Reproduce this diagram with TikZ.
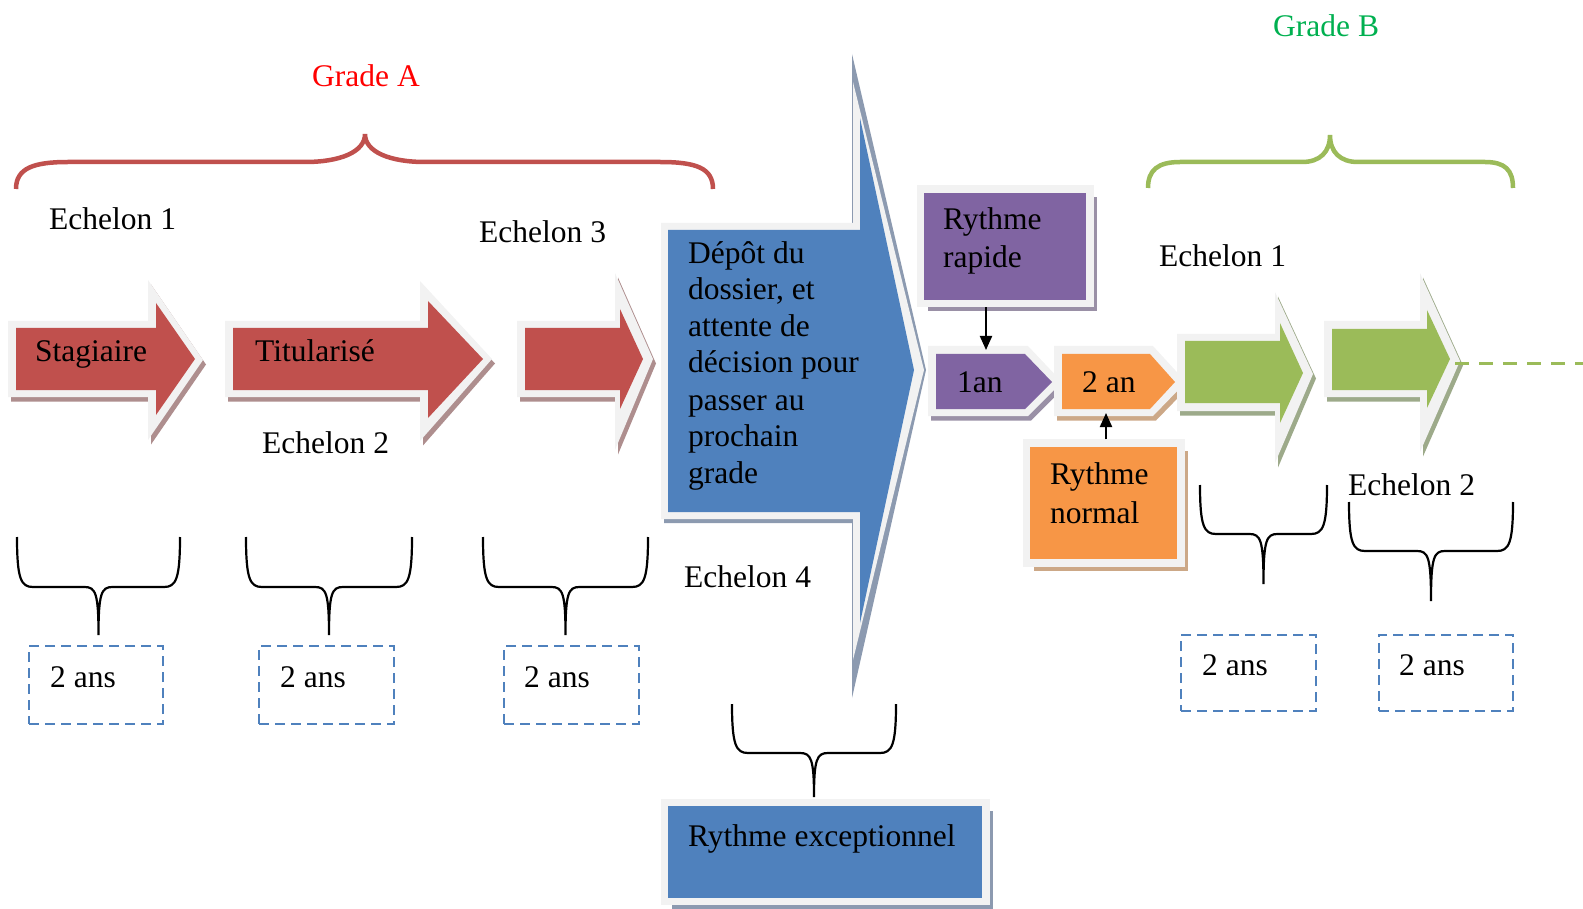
\documentclass[tikz,border=0pt]{standalone}
\usepackage{fontspec}
\setmainfont{Liberation Serif}
\usetikzlibrary{arrows.meta,shadows}
\definecolor{cRed}{HTML}{C0504D}
\definecolor{cBlue}{HTML}{4F81BD}
\definecolor{cPurple}{HTML}{8064A2}
\definecolor{cOrange}{HTML}{F79646}
\definecolor{cGreen}{HTML}{9BBB59}
\definecolor{cGlow}{HTML}{F2F2F2}
\definecolor{sRed}{HTML}{AE8E8E}
\definecolor{sBlue}{HTML}{8C9AB0}
\definecolor{sPurple}{HTML}{9A90A6}
\definecolor{sOrange}{HTML}{CCA887}
\definecolor{sGreen}{HTML}{9DAA8A}
\definecolor{gradeA}{HTML}{FF0000}
\definecolor{gradeB}{HTML}{00B050}
\tikzset{
 lbl/.style={font=\fontsize{31.5}{37}\selectfont, inner sep=0pt, anchor=base west},
 glowfill/.style={fill=cGlow},
 shd/.style={drop shadow={shadow xshift=3pt,shadow yshift=-4.5pt,fill=#1,opacity=1}},
 boxnode/.style={draw=cGlow, line width=7.5pt, fill=#1, inner sep=0pt},
 boxshd/.style={drop shadow={shadow xshift=7pt,shadow yshift=-8pt,fill=#1,opacity=1}},
 dbox/.style={draw=cBlue, line width=2.8pt, dash pattern=on 10pt off 6pt, inner sep=0pt},
 blk/.style={draw=black, line width=2.2pt},
 bigbrace/.style={line width=4.5pt},
 conn/.style={draw=black, line width=2pt, -{Triangle[length=14pt,width=12pt]}},
}
\newcommand\smallbr[5]{%
 \pgfmathsetmacro\brmid{(#1+#2)/2}%
 \draw[blk] (#1,#3) .. controls (#1,#4-8) and (#1+4,#4) .. (#1+16,#4) -- (\brmid-14,#4)
   .. controls (\brmid-3,#4) and (\brmid,#4+6) .. (\brmid,#5)
   .. controls (\brmid,#4+6) and (\brmid+3,#4) .. (\brmid+14,#4) -- (#2-16,#4)
   .. controls (#2-4,#4) and (#2,#4-8) .. (#2,#3);}
\begin{document}
\begin{tikzpicture}[x=1pt,y=-1pt]
\useasboundingbox (0,0) rectangle (1583,909);
% big braces
\draw[bigbrace, cRed] (16,189) .. controls (16,168) and (34,162) .. (68,162) -- (305,162)
  .. controls (340,162) and (365,152) .. (365,134) .. controls (365,152) and (390,162) .. (425,162)
  -- (660,162) .. controls (696,162) and (713,168) .. (713,189);
\draw[bigbrace, cGreen] (1148,188) .. controls (1148,170) and (1158,162) .. (1180,162) -- (1302,162)
  .. controls (1320,162) and (1330,152) .. (1330,135) .. controls (1330,152) and (1340,162) .. (1358,162)
  -- (1485,162) .. controls (1505,162) and (1513,170) .. (1513,188);
\node[lbl, text=gradeA] (gA) at (312,87) {Grade A};
\node[lbl, text=gradeB] (gB) at (1273,37) {Grade B};
% red arrows
\path[glowfill, shd=sRed] (8,321) -- (148,321) -- (148,280) -- (203,360) -- (148,440) -- (148,397) -- (8,397) -- cycle;
\fill[cRed] (16,328) -- (156,328) -- (156,303) -- (195,359) -- (156,415) -- (156,390) -- (16,390) -- cycle;
\path[glowfill, shd=sRed] (225,321) -- (420,321) -- (420,281) -- (492,359) -- (420,441) -- (420,397) -- (225,397) -- cycle;
\fill[cRed] (233,328) -- (428,328) -- (428,301) -- (483,359) -- (428,418) -- (428,390) -- (233,390) -- cycle;
\path[glowfill, shd=sRed] (517,321) -- (615,321) -- (615,273) -- (653,359) -- (615,450) -- (615,397) -- (517,397) -- cycle;
\fill[cRed] (525,328) -- (620,328) -- (620,309) -- (643,359) -- (620,409) -- (620,390) -- (525,390) -- cycle;
% blue arrow
\fill[sBlue] (852,54) -- (926,370) -- (852,698) -- (852,523) -- (664,523) -- (664,226) -- (852,226) -- cycle;
\fill[cGlow] (661,223) -- (853,223) -- (853,82) -- (924,370) -- (853,660) -- (853,519) -- (661,519) -- cycle;
\fill[cBlue] (668,230) -- (860,230) -- (860,118) -- (914,370) -- (860,623) -- (860,512) -- (668,512) -- cycle;
% boxes
\node[boxnode=cPurple, boxshd=sPurple, minimum width=169.5pt, minimum height=114.5pt] (rapide) at (1005.25,246.25) {};
\node[boxnode=cOrange, boxshd=sOrange, minimum width=154.5pt, minimum height=120pt] (normal) at (1103.75,503) {};
\node[boxnode=cBlue, boxshd=sBlue, minimum width=321.5pt, minimum height=99pt] (exc) at (825.25,852) {};
% pentagons
\path[glowfill, shd=sPurple] (928,346) -- (1028,346) -- (1062,382) -- (1028,416) -- (928,416) -- cycle;
\fill[cPurple] (936,354) -- (1025,354) -- (1052,382) -- (1025,409) -- (936,409) -- cycle;
\path[glowfill, shd=sOrange] (1054,346) -- (1153,346) -- (1186,382) -- (1153,416) -- (1054,416) -- cycle;
\fill[cOrange] (1062,354) -- (1150,354) -- (1175,382) -- (1150,409) -- (1062,409) -- cycle;
\coordinate (p1top) at (986,350);
\coordinate (p2bot) at (1106,413);
% green arrows
\path[glowfill, shd=sGreen] (1177,334) -- (1275,334) -- (1275,292) -- (1313,374) -- (1275,463) -- (1275,411) -- (1177,411) -- cycle;
\fill[cGreen] (1185,341) -- (1280,341) -- (1280,323) -- (1303,373) -- (1280,423) -- (1280,403) -- (1185,403) -- cycle;
\path[glowfill, shd=sGreen] (1324,321) -- (1420,321) -- (1420,273) -- (1460,361) -- (1420,452) -- (1420,397) -- (1324,397) -- cycle;
\fill[cGreen] (1332,329) -- (1427,329) -- (1427,310) -- (1450,359) -- (1427,408) -- (1427,390) -- (1332,390) -- cycle;
\coordinate (gtip) at (1455,364);
\coordinate (gend) at (1583,364);
\draw[cGreen, line width=3pt, dash pattern=on 14pt off 10pt] (gtip) -- (gend);
% small braces
\smallbr{17}{180}{537}{587}{635}
\smallbr{246}{412}{537}{587}{635}
\smallbr{483}{648}{537}{587}{635}
\smallbr{732}{896}{704}{753}{797}
\smallbr{1200}{1327}{485}{534}{584}
\smallbr{1349}{1513}{502}{551}{601}
% dashed boxes
\node[dbox, minimum width=134pt, minimum height=78pt] (d1) at (96,685) {};
\node[dbox, minimum width=135pt, minimum height=78pt] (d2) at (326.5,685) {};
\node[dbox, minimum width=135pt, minimum height=78pt] (d3) at (571.5,685) {};
\node[dbox, minimum width=135pt, minimum height=76pt] (d4) at (1248.5,673) {};
\node[dbox, minimum width=134pt, minimum height=76pt] (d5) at (1446,673) {};
% texts
\node[lbl] (e1a) at (49,230) {Echelon 1};
\node[lbl] (e3a) at (479,243) {Echelon 3};
\node[lbl] (e2a) at (262,453) {Echelon 2};
\node[lbl] (e4) at (684,587) {Echelon 4};
\node[lbl] (e1b) at (1159,267) {Echelon 1};
\node[lbl] (e2b) at (1348,495) {Echelon 2};
\node[lbl] (stag) at (35,362) {Stagiaire};
\node[lbl] (tit) at (255,362) {Titularisé};
\node[lbl] (b1) at (688,264) {Dépôt du};
\node[lbl] (b2) at (688,300) {dossier, et};
\node[lbl] (b3) at (688,337) {attente de};
\node[lbl] (b4) at (688,373) {décision pour};
\node[lbl] (b5) at (688,410) {passer au};
\node[lbl] (b6) at (688,446) {prochain};
\node[lbl] (b7) at (688,483) {grade};
\node[lbl] (texc) at (688,846) {Rythme exceptionnel};
\node[lbl] (rap1) at (943,230) {Rythme};
\node[lbl] (rap2) at (943,268) {rapide};
\node[lbl] (t1an) at (957,392) {1an};
\node[lbl] (t2an) at (1082,392) {2 an};
\node[lbl] (nor1) at (1050,484) {Rythme};
\node[lbl] (nor2) at (1050,523) {normal};
\node[lbl] (a1) at (50,687) {2 ans};
\node[lbl] (a2) at (280,687) {2 ans};
\node[lbl] (a3) at (524,687) {2 ans};
\node[lbl] (a4) at (1202,675) {2 ans};
\node[lbl] (a5) at (1399,675) {2 ans};
% connectors
\draw[conn] (rapide.south -| p1top) -- (p1top);
\draw[conn] (normal.north -| p2bot) -- (p2bot);
\end{tikzpicture}
\end{document}
